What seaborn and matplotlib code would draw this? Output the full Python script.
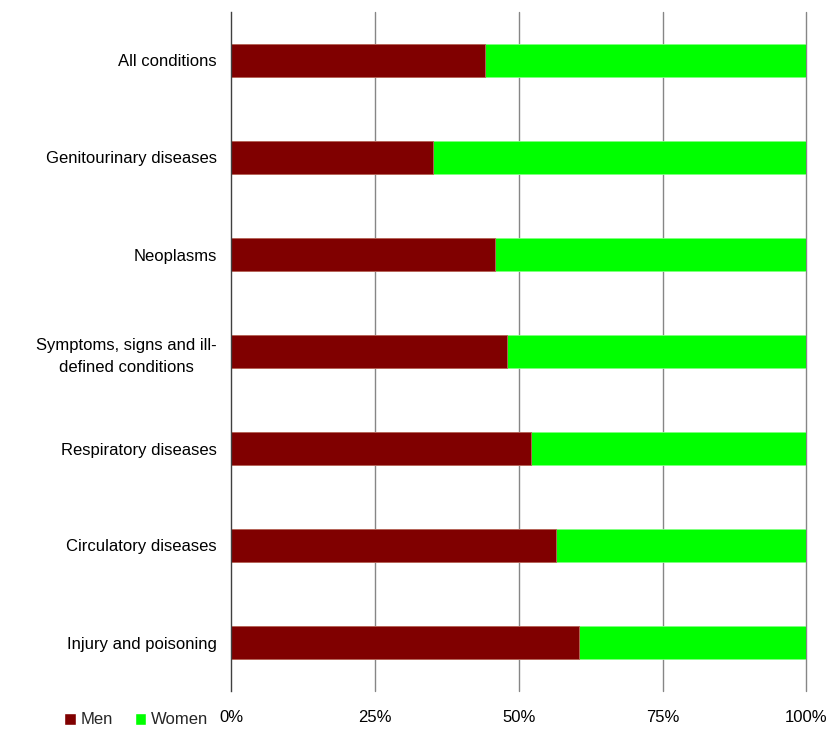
import matplotlib
matplotlib.use("Agg")
import matplotlib.pyplot as plt
import seaborn as sns
import pandas as pd
from matplotlib.patches import Patch

categories = [
    "All conditions",
    "Genitourinary diseases",
    "Neoplasms",
    "Symptoms, signs and ill-\ndefined conditions",
    "Respiratory diseases",
    "Circulatory diseases",
    "Injury and poisoning",
]
men = [44.2, 35.1, 45.9, 48.0, 52.1, 56.4, 60.5]
women = [55.8, 64.9, 54.1, 52.0, 47.9, 43.6, 39.5]
xticks = [0, 25, 50, 75, 100]
xticklabels = ["0%", "25%", "50%", "75%", "100%"]

MEN_COLOR = "#800000"
WOMEN_COLOR = "#00FF00"

sns.set_theme(style="white")
plt.rcParams["font.family"] = ["Liberation Sans", "DejaVu Sans"]

df = pd.DataFrame({"category": categories, "men": men, "women": women})
df["total"] = df["men"] + df["women"]

fig = plt.figure(figsize=(8.28, 7.29), dpi=100)
ax = fig.add_axes([231 / 828, 1 - 691 / 729, (806.5 - 231) / 828, (691 - 12) / 729])

# stacked bars: full total in green, men overlaid from the left
sns.barplot(data=df, x="total", y="category", orient="h", color=WOMEN_COLOR,
            saturation=1, width=0.33, ax=ax, edgecolor="#7fff7f", linewidth=0.6)
sns.barplot(data=df, x="men", y="category", orient="h", color=MEN_COLOR,
            saturation=1, width=0.33, ax=ax, edgecolor="#c06060", linewidth=0.6)

ax.set_xlim(0, 100)
ax.set_ylim(6.5, -0.5)
ax.set_xticks(xticks)
ax.set_xticklabels(xticklabels, fontsize=12)
ax.set_xlabel("")
ax.set_ylabel("")
ax.tick_params(axis="y", labelsize=12, pad=10, length=0, colors="black")
ax.tick_params(axis="x", pad=14, length=0, colors="black")
for lbl in ax.get_yticklabels():
    lbl.set_multialignment("center")
    lbl.set_linespacing(1.6)

for x in xticks[1:]:
    ax.axvline(x, color="#868686", lw=1.0, zorder=0, clip_on=False)

for side in ["top", "right", "bottom"]:
    ax.spines[side].set_visible(False)
ax.spines["left"].set_color("#404040")
ax.spines["left"].set_linewidth(1.0)

handles = [Patch(facecolor=MEN_COLOR, label="Men"),
           Patch(facecolor=WOMEN_COLOR, label="Women")]
fig.legend(handles=handles, loc="center left", bbox_to_anchor=(64 / 828, 1 - 720 / 729),
           ncol=2, frameon=False, fontsize=12, handlelength=0.7, handleheight=0.7,
           handletextpad=0.3, columnspacing=1.3, borderaxespad=0, borderpad=0)

fig.savefig("out.png", dpi=100, facecolor="white")
